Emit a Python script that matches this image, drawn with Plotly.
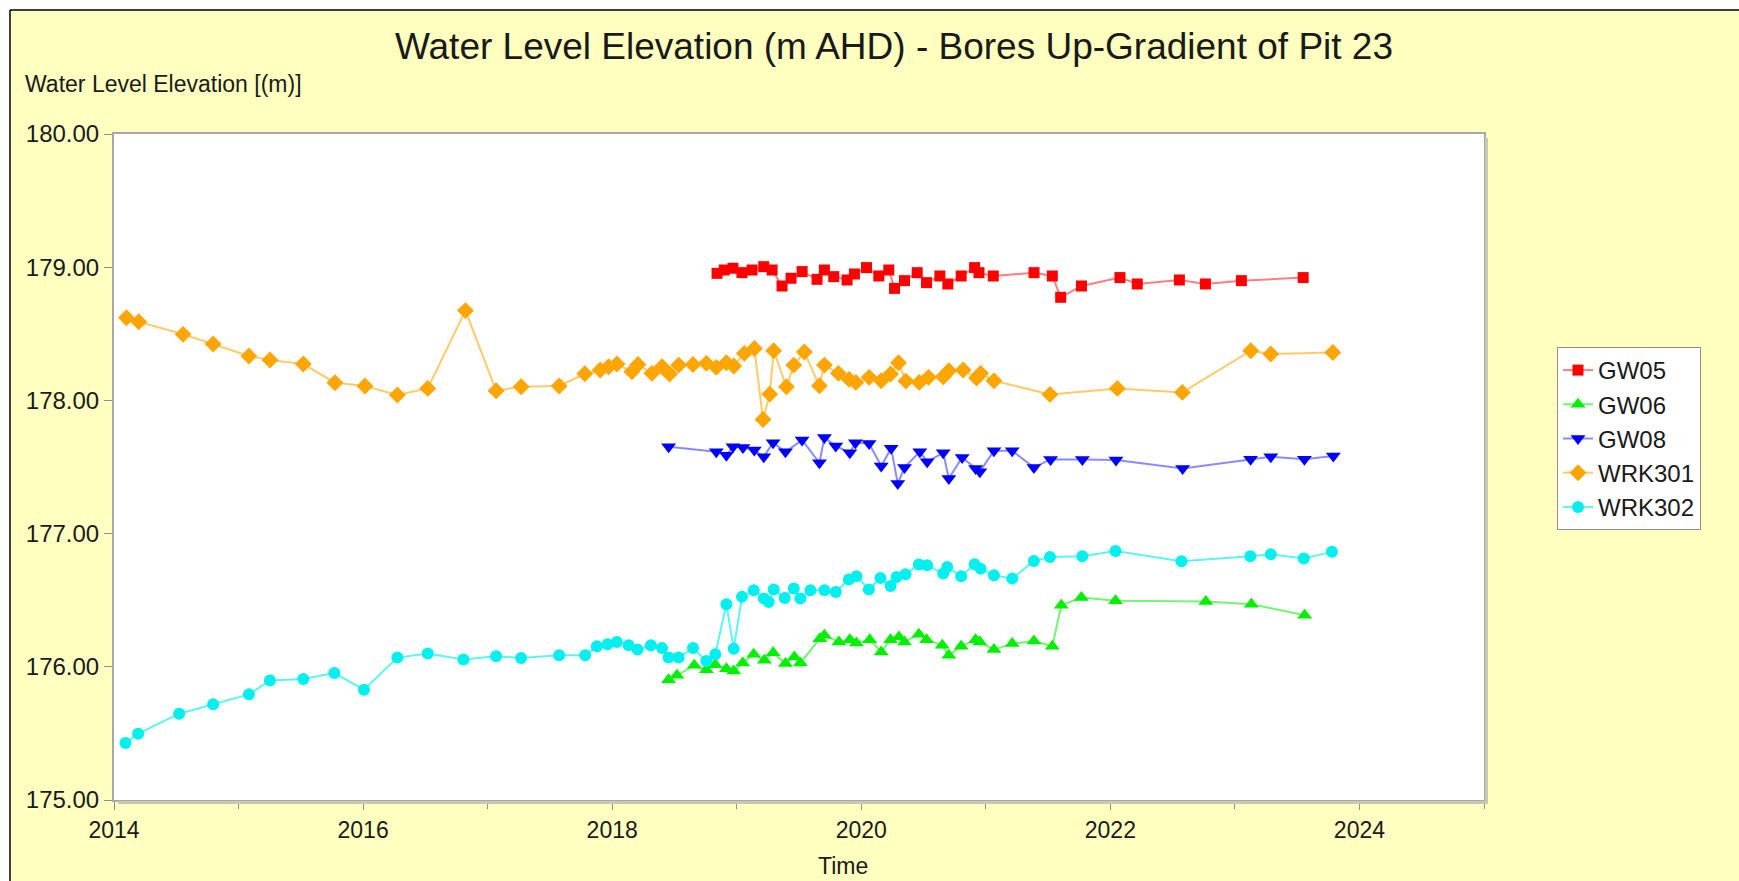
import plotly.graph_objects as go

# bore water levels, x = decimal year, y = m AHD
gw05_t = [2018.842, 2018.90, 2018.97, 2019.042, 2019.123, 2019.217, 2019.284, 2019.364,
          2019.436, 2019.525, 2019.645, 2019.704, 2019.779, 2019.886, 2019.945, 2020.042,
          2020.141, 2020.221, 2020.267, 2020.347, 2020.449, 2020.524, 2020.631, 2020.695,
          2020.802, 2020.910, 2020.945, 2021.06, 2021.387, 2021.534, 2021.601, 2021.768,
          2022.077, 2022.216, 2022.554, 2022.763, 2023.052, 2023.548]
gw05_v = [178.954, 178.979, 178.992, 178.959, 178.979, 179.004, 178.979, 178.859,
          178.917, 178.967, 178.909, 178.979, 178.929, 178.904, 178.949, 178.997,
          178.934, 178.979, 178.841, 178.899, 178.959, 178.884, 178.934, 178.874,
          178.934, 178.997, 178.959, 178.934, 178.959, 178.934, 178.774, 178.859,
          178.922, 178.874, 178.904, 178.874, 178.899, 178.922]

gw06_t = [2018.453, 2018.52, 2018.659, 2018.756, 2018.828, 2018.917, 2018.976, 2019.048,
          2019.136, 2019.222, 2019.292, 2019.391, 2019.463, 2019.511, 2019.667, 2019.704,
          2019.82, 2019.908, 2019.961, 2020.068, 2020.16, 2020.235, 2020.302, 2020.347,
          2020.462, 2020.524, 2020.65, 2020.703, 2020.802, 2020.918, 2020.952, 2021.065,
          2021.212, 2021.386, 2021.534, 2021.606, 2021.767, 2022.041, 2022.766, 2023.132,
          2023.56]
gw06_v = [175.903, 175.936, 176.011, 175.978, 176.016, 175.986, 175.968, 176.029,
          176.094, 176.049, 176.106, 176.024, 176.074, 176.029, 176.211, 176.237,
          176.187, 176.204, 176.179, 176.204, 176.111, 176.204, 176.224, 176.187,
          176.244, 176.204, 176.161, 176.086, 176.154, 176.204, 176.187, 176.129,
          176.174, 176.194, 176.154, 176.462, 176.52, 176.495, 176.49, 176.47,
          176.387]

gw08_t = [2018.453, 2018.836, 2018.917, 2018.97, 2019.05, 2019.141, 2019.217, 2019.292,
          2019.391, 2019.525, 2019.664, 2019.704, 2019.795, 2019.908, 2019.953, 2020.063,
          2020.16, 2020.24, 2020.293, 2020.347, 2020.47, 2020.529, 2020.658, 2020.703,
          2020.81, 2020.918, 2020.952, 2021.065, 2021.212, 2021.386, 2021.52, 2021.775,
          2022.045, 2022.58, 2023.126, 2023.288, 2023.558, 2023.79]
gw08_v = [177.652, 177.614, 177.589, 177.652, 177.647, 177.627, 177.577, 177.682,
          177.614, 177.702, 177.532, 177.722, 177.657, 177.607, 177.682, 177.677,
          177.507, 177.64, 177.376, 177.497, 177.614, 177.539, 177.607, 177.414,
          177.572, 177.489, 177.464, 177.622, 177.622, 177.497, 177.557, 177.557,
          177.552, 177.489, 177.559, 177.577, 177.559, 177.582]

wrk301_t = [2014.100, 2014.199, 2014.555, 2014.796, 2015.083, 2015.252, 2015.52, 2015.774,
            2016.015, 2016.275, 2016.519, 2016.822, 2017.068, 2017.269, 2017.574, 2017.78,
            2017.904, 2017.971, 2018.038, 2018.158, 2018.207, 2018.319, 2018.40, 2018.461,
            2018.534, 2018.649, 2018.756, 2018.836, 2018.917, 2018.976, 2019.061, 2019.142,
            2019.211, 2019.265, 2019.297, 2019.399, 2019.458, 2019.543, 2019.664, 2019.704,
            2019.817, 2019.902, 2019.956, 2020.063, 2020.16, 2020.235, 2020.299, 2020.358,
            2020.465, 2020.54, 2020.658, 2020.703, 2020.818, 2020.926, 2020.958, 2021.065,
            2021.515, 2022.056, 2022.578, 2023.127, 2023.288, 2023.786]
wrk301_v = [178.621, 178.591, 178.496, 178.423, 178.333, 178.303, 178.273, 178.133,
            178.108, 178.04, 178.09, 178.674, 178.073, 178.103, 178.108, 178.20,
            178.228, 178.253, 178.273, 178.215, 178.270, 178.203, 178.253, 178.198,
            178.265, 178.27, 178.278, 178.248, 178.283, 178.258, 178.353, 178.39,
            177.857, 178.047, 178.373, 178.102, 178.265, 178.363, 178.11, 178.265,
            178.203, 178.158, 178.135, 178.173, 178.148, 178.198, 178.283, 178.145,
            178.135, 178.173, 178.178, 178.223, 178.228, 178.168, 178.203, 178.148,
            178.045, 178.09, 178.06, 178.373, 178.348, 178.36]

wrk302_t = [2014.092, 2014.194, 2014.523, 2014.796, 2015.083, 2015.252, 2015.52, 2015.769,
            2016.007, 2016.275, 2016.519, 2016.806, 2017.068, 2017.269, 2017.574, 2017.783,
            2017.877, 2017.963, 2018.038, 2018.132, 2018.204, 2018.311, 2018.40, 2018.453,
            2018.534, 2018.649, 2018.756, 2018.828, 2018.917, 2018.976, 2019.042, 2019.136,
            2019.217, 2019.257, 2019.297, 2019.385, 2019.458, 2019.511, 2019.592, 2019.704,
            2019.795, 2019.90, 2019.961, 2020.061, 2020.154, 2020.235, 2020.283, 2020.355,
            2020.462, 2020.529, 2020.658, 2020.69, 2020.802, 2020.91, 2020.958, 2021.065,
            2021.212, 2021.386, 2021.515, 2021.775, 2022.041, 2022.571, 2023.124, 2023.288,
            2023.553, 2023.779]
wrk302_v = [175.428, 175.498, 175.648, 175.718, 175.793, 175.898, 175.908, 175.953,
            175.828, 176.069, 176.099, 176.054, 176.079, 176.066, 176.086, 176.086,
            176.154, 176.169, 176.186, 176.161, 176.129, 176.161, 176.141, 176.069,
            176.069, 176.141, 176.044, 176.094, 176.469, 176.136, 176.525, 176.575,
            176.512, 176.487, 176.58, 176.517, 176.587, 176.512, 176.575, 176.575,
            176.562, 176.655, 176.68, 176.58, 176.667, 176.607, 176.675, 176.695,
            176.768, 176.763, 176.7, 176.75, 176.68, 176.77, 176.737, 176.687,
            176.662, 176.795, 176.825, 176.83, 176.87, 176.793, 176.83, 176.845,
            176.813, 176.863]

series = [
    ("GW05", gw05_t, gw05_v, "#FF0000", "rgba(255,40,40,0.6)", "square", 11),
    ("GW06", gw06_t, gw06_v, "#00F000", "rgba(40,240,40,0.65)", "triangle-up", 13),
    ("GW08", gw08_t, gw08_v, "#0000FF", "rgba(60,60,255,0.6)", "triangle-down", 13),
    ("WRK301", wrk301_t, wrk301_v, "#FFA500", "rgba(255,175,20,0.65)", "diamond", 13),
    ("WRK302", wrk302_t, wrk302_v, "#00F0F0", "rgba(0,240,240,0.65)", "circle", 12),
]

W, H = 1739, 881
L, R, T, B = 114, 255, 134, 81
pw, ph = W - L - R, H - T - B
YELLOW = "#FFFFC0"
FONT = "Liberation Sans, Arial, sans-serif"


def px(x):
    return (x - L) / pw


def py(y):
    return (H - B - y) / ph


fig = go.Figure()
for name, t, v, mc, lc, sym, sz in series:
    fig.add_trace(go.Scatter(
        x=t, y=v, name=name, mode="lines+markers",
        line=dict(color=lc, width=2),
        marker=dict(color=mc, symbol=sym, size=sz, line=dict(width=0)),
    ))

shadow = "#C9C9B2"
shapes = [
    # soft shadow right of / below the plot area
    dict(type="line", xref="paper", yref="paper", x0=px(W - R + 2.5), x1=px(W - R + 2.5),
         y0=py(T + 4), y1=py(H - B + 3), line=dict(color=shadow, width=3)),
    dict(type="line", xref="paper", yref="paper", x0=px(L + 4), x1=px(W - R + 4),
         y0=py(H - B + 2.5), y1=py(H - B + 2.5), line=dict(color=shadow, width=3)),
    # white strips outside the framed panel
    dict(type="rect", xref="paper", yref="paper", x0=px(-5), x1=px(W + 5),
         y0=py(10), y1=py(-5), fillcolor="white", line=dict(width=0)),
    dict(type="rect", xref="paper", yref="paper", x0=px(-5), x1=px(10),
         y0=py(H + 5), y1=py(-5), fillcolor="white", line=dict(width=0)),
    # frame
    dict(type="line", xref="paper", yref="paper", x0=px(10), x1=px(W + 5),
         y0=py(10), y1=py(10), line=dict(color="black", width=1.5)),
    dict(type="line", xref="paper", yref="paper", x0=px(10), x1=px(10),
         y0=py(10), y1=py(H + 5), line=dict(color="black", width=1.5)),
]

fig.update_layout(
    width=W, height=H,
    margin=dict(l=L, r=R, t=T, b=B),
    paper_bgcolor=YELLOW, plot_bgcolor="white",
    font=dict(family=FONT, color="#1A1A1A"),
    title=dict(text="Water Level Elevation (m AHD) - Bores Up-Gradient of Pit 23",
               xref="container", x=894 / W, xanchor="center",
               y=1 - 46 / H, yanchor="middle",
               font=dict(size=37, color="#1A1A1A")),
    showlegend=True,
    legend=dict(x=px(1557), y=py(347), xanchor="left", yanchor="top",
                bgcolor="white", bordercolor="#909090", borderwidth=1,
                font=dict(size=24, color="#1A1A1A"), itemwidth=30,
                tracegroupgap=0),
    shapes=shapes,
    annotations=[
        dict(text="Water Level Elevation [(m)]", xref="paper", yref="paper",
             x=px(23), y=py(84), xanchor="left", yanchor="middle",
             showarrow=False, font=dict(size=23)),
        dict(text="Time", xref="paper", yref="paper",
             x=px(843), y=py(866), xanchor="center", yanchor="middle",
             showarrow=False, font=dict(size=23)),
    ],
)

fig.update_xaxes(
    range=[2014, 2025], tick0=2014, dtick=2, tickformat="d",
    ticks="outside", ticklen=8, tickcolor="#909090",
    minor=dict(dtick=1, ticks="outside", ticklen=7, tickcolor="#909090"),
    showgrid=False, zeroline=False,
    showline=True, linecolor="#A8A8A8", linewidth=2, mirror=True,
    tickfont=dict(size=23),
)
fig.update_yaxes(
    range=[175, 180], tick0=175, dtick=1, tickformat=".2f",
    ticks="outside", ticklen=8, tickcolor="#909090",
    showgrid=False, zeroline=False,
    showline=True, linecolor="#A8A8A8", linewidth=2, mirror=True,
    tickfont=dict(size=24),
)

# drop the browser's default 8px body margin so the figure sits at the page corner
fig.write_html("out.html", config={"displayModeBar": False},
               post_script="document.body.style.margin='0px';")
